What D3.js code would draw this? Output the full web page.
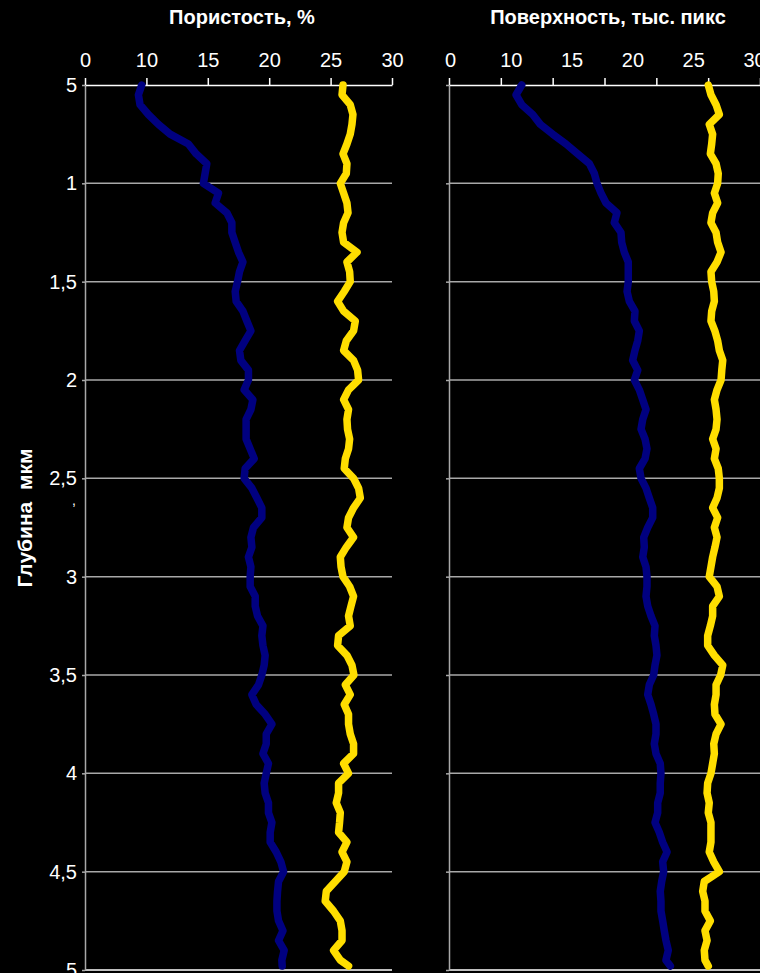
<!DOCTYPE html>
<html>
<head>
<meta charset="utf-8">
<script src="https://cdn.jsdelivr.net/npm/d3@7"></script>
<style>
  body { margin: 0; background: #000; }
  svg { display: block; }
  text { font-family: Arial, "Liberation Sans", sans-serif; fill: #fff; }
</style>
</head>
<body>
<script type="text/javascript">

//Depth of every sample (y axis).
var depth = [0.5, 0.55, 0.6, 0.65, 0.7, 0.75, 0.8, 0.85, 0.9, 0.95,
             1.0, 1.05, 1.1, 1.15, 1.2, 1.25, 1.3, 1.35, 1.4, 1.45,
             1.5, 1.55, 1.6, 1.65, 1.7, 1.75, 1.8, 1.85, 1.9, 1.95,
             2.0, 2.05, 2.1, 2.15, 2.2, 2.25, 2.3, 2.35, 2.4, 2.45,
             2.5, 2.55, 2.6, 2.65, 2.7, 2.75, 2.8, 2.85, 2.9, 2.95,
             3.0, 3.05, 3.1, 3.15, 3.2, 3.25, 3.3, 3.35, 3.4, 3.45,
             3.5, 3.55, 3.6, 3.65, 3.7, 3.75, 3.8, 3.85, 3.9, 3.95,
             4.0, 4.05, 4.1, 4.15, 4.2, 4.25, 4.3, 4.35, 4.4, 4.45,
             4.5, 4.55, 4.6, 4.65, 4.7, 4.75, 4.8, 4.85, 4.9, 4.95, 4.98];

//Porosity panel, blue series.
var porosityBlue = [9.62, 9.35, 9.48, 10.16, 10.98, 11.93, 13.42, 14.05, 14.92, 14.78,
                    14.64, 15.87, 15.6, 16.55, 16.96, 16.96, 17.23, 17.5, 17.86, 17.58,
                    17.42, 17.23, 17.31, 17.86, 18.18, 18.51, 18.04, 17.58, 17.69, 18.31,
                    18.31, 17.96, 18.67, 18.51, 18.12, 18.12, 18.12, 18.45, 18.78, 18.04,
                    17.96, 18.59, 19.0, 19.4, 19.4, 18.72, 18.51, 18.59, 18.31, 18.51,
                    18.45, 18.45, 18.86, 18.86, 19.05, 19.49, 19.4, 19.49, 19.67, 19.59,
                    19.4, 19.13, 18.59, 18.94, 19.67, 20.22, 19.76, 19.76, 19.49, 19.94,
                    19.76, 19.59, 19.67, 19.94, 19.94, 20.22, 20.08, 20.08, 20.57, 20.95,
                    21.17, 20.76, 20.68, 20.63, 20.63, 20.76, 21.12, 20.76, 21.22, 21.03, 21.06];

//Porosity panel, yellow series.
var porosityYellow = [26.01, 25.93, 26.6, 26.82, 26.74, 26.6, 26.33, 26.01, 26.33, 26.28,
                      25.79, 26.06, 26.33, 26.42, 26.06, 25.93, 26.06, 27.15, 26.33, 26.55,
                      26.6, 26.11, 25.57, 26.06, 27.01, 26.87, 26.28, 26.06, 26.87, 27.2,
                      27.28, 26.46, 26.06, 26.46, 26.33, 26.38, 26.55, 26.46, 26.2, 26.11,
                      26.87, 27.28, 27.42, 26.87, 26.46, 26.33, 26.87, 26.28, 25.79, 25.85,
                      26.01, 26.55, 26.87, 26.66, 26.46, 26.6, 25.65, 25.57, 26.33, 26.74,
                      26.9, 26.2, 26.6, 26.11, 26.46, 26.46, 26.6, 26.87, 26.87, 26.06,
                      26.46, 25.65, 25.65, 25.46, 25.79, 25.73, 25.65, 26.33, 25.93, 26.33,
                      26.11, 25.38, 24.65, 24.56, 25.24, 25.79, 25.93, 25.93, 25.24, 25.79, 26.46];

//Surface panel, blue series.
var surfaceBlue = [10.9, 10.43, 10.9, 11.8, 12.43, 13.45, 14.54, 15.5, 16.46, 16.87,
                   17.09, 17.42, 17.83, 18.73, 18.51, 19.06, 19.12, 19.33, 19.66, 19.66,
                   19.66, 19.56, 19.75, 20.21, 20.16, 20.57, 20.44, 20.21, 20.02, 20.44,
                   20.16, 20.57, 20.85, 21.12, 20.85, 20.71, 21.04, 21.2, 21.04, 20.57,
                   20.71, 21.12, 21.39, 21.67, 21.67, 21.26, 20.93, 20.98, 20.85, 21.12,
                   21.2, 21.2, 21.12, 21.26, 21.53, 21.86, 21.8, 21.94, 22.02, 21.86,
                   21.75, 21.39, 21.26, 21.53, 21.75, 21.94, 21.94, 21.8, 21.94, 22.29,
                   22.35, 22.29, 22.29, 22.08, 22.08, 21.86, 22.21, 22.49, 22.85, 22.49,
                   22.57, 22.41, 22.29, 22.35, 22.35, 22.49, 22.62, 22.76, 22.95, 22.76, 23.12];

//Surface panel, yellow series.
var surfaceYellow = [26.24, 26.46, 26.88, 27.15, 26.32, 26.6, 26.52, 26.41, 26.88, 27.06,
                     27.01, 26.74, 27.01, 26.6, 26.46, 26.88, 27.01, 27.29, 26.96, 26.46,
                     26.52, 26.69, 26.74, 26.52, 26.46, 26.78, 27.01, 27.15, 27.43, 27.35,
                     27.29, 26.96, 26.74, 26.88, 26.96, 26.88, 26.6, 26.88, 26.74, 27.06,
                     27.15, 27.15, 26.96, 26.6, 27.01, 26.74, 26.96, 26.79, 26.6, 26.46,
                     26.32, 26.96, 27.15, 26.6, 26.6, 26.41, 26.19, 26.19, 26.74, 27.43,
                     27.26, 26.88, 26.88, 26.74, 26.79, 27.29, 26.88, 26.69, 26.74, 26.6,
                     26.46, 26.19, 26.14, 26.32, 26.24, 26.46, 26.46, 26.46, 26.32, 26.69,
                     27.15, 25.91, 25.78, 25.97, 25.97, 26.41, 25.97, 26.14, 25.91, 25.97, 26.24];

//Tick values and the labels printed at them.
var xTickValues = [5, 10, 15, 20, 25, 30];
var xTickLabels = ["0", "10", "15", "20", "25", "30"];
var surfaceMarkValues = [0, 5, 10, 15, 20, 25, 30];
var yTickValues = [0.5, 1, 1.5, 2, 2.5, 3, 3.5, 4, 4.5, 5];
var yTickLabels = ["5", "1", "1,5", "2", "2,5", "3", "3,5", "4", "4,5", "5"];

var W = 760, H = 973;
var gridColor = "#a8a8a8";

var svg = d3.select("body").append("svg").attr("width", W).attr("height", H);
svg.append("rect").attr("width", W).attr("height", H).attr("fill", "#000");

//Scales.
var y = d3.scaleLinear().domain([0.5, 5]).range([85, 970]);
var xL = d3.scaleLinear().domain([5, 30]).range([85, 392]);
var xR = d3.scaleLinear().domain([5, 30]).range([450, 754]);
var xRmarks = d3.scaleLinear().domain([0, 30]).range([449, 760]);

//Draw the horizontal grid lines of both panels.
function grid(x0, x1) {
  svg.append("g").selectAll("line").data(yTickValues.slice(1)).enter()
    .append("line")
    .attr("x1", x0).attr("x2", x1)
    .attr("y1", function(d) { return y(d); })
    .attr("y2", function(d) { return y(d); })
    .attr("stroke", function(d) { return d === 5 ? "#fff" : gridColor; })
    .attr("stroke-width", 1.5);
}
grid(85, 392);
grid(449, 760);

//Left axes of both panels.
var yAxisL = svg.append("g").attr("transform", "translate(85,0)")
  .call(d3.axisLeft(y).tickValues(yTickValues)
    .tickFormat(function(d, i) { return yTickLabels[i]; })
    .tickSize(3).tickSizeOuter(0).tickPadding(5));
var yAxisR = svg.append("g").attr("transform", "translate(449,0)")
  .call(d3.axisLeft(y).tickValues(yTickValues).tickFormat("")
    .tickSize(3).tickSizeOuter(0));
[yAxisL, yAxisR].forEach(function(g) {
  g.selectAll("path, line").attr("stroke", gridColor).attr("stroke-width", 1.5);
  g.selectAll("text").attr("font-size", "20px").attr("fill", "#fff");
});

//Top axes.
var xAxisL = svg.append("g").attr("transform", "translate(0,85)")
  .call(d3.axisTop(xL).tickValues(xTickValues)
    .tickFormat(function(d, i) { return xTickLabels[i]; })
    .tickSize(7).tickSizeOuter(0).tickPadding(11));
var xAxisRmarks = svg.append("g").attr("transform", "translate(0,85)")
  .call(d3.axisTop(xRmarks).tickValues(surfaceMarkValues).tickFormat("")
    .tickSize(7).tickSizeOuter(0));
var xAxisR = svg.append("g").attr("transform", "translate(0,85)")
  .call(d3.axisTop(xR).tickValues(xTickValues)
    .tickFormat(function(d, i) { return xTickLabels[i]; })
    .tickSize(0).tickPadding(18));
xAxisR.select(".domain").remove();
[xAxisL, xAxisRmarks, xAxisR].forEach(function(g) {
  g.selectAll("path, line").attr("stroke", "#fff").attr("stroke-width", 1.5);
  g.selectAll("text").attr("font-size", "20px").attr("fill", "#fff");
});

//Titles.
svg.append("text").text("Пористость, %")
  .attr("x", 242).attr("y", 24).attr("text-anchor", "middle")
  .attr("font-size", "20px").attr("font-weight", "bold");
svg.append("text").text("Поверхность, тыс. пикс")
  .attr("x", 608).attr("y", 24).attr("text-anchor", "middle")
  .attr("font-size", "20px").attr("font-weight", "bold");
svg.append("text").text("Глубина  мкм")
  .attr("transform", "translate(32,518) rotate(-90)")
  .attr("text-anchor", "middle")
  .style("white-space", "pre")
  .attr("font-size", "21px").attr("font-weight", "bold");
svg.append("text").text(",")
  .attr("x", 74).attr("y", 505).attr("text-anchor", "middle")
  .attr("font-size", "14px");

//Draw the curves.
function curve(x, values, color) {
  var line = d3.line()
    .x(function(d, i) { return x(values[i]); })
    .y(function(d) { return y(d); });
  svg.append("path").datum(depth)
    .attr("d", line)
    .attr("fill", "none")
    .attr("stroke", color)
    .attr("stroke-width", 7.5)
    .attr("stroke-linejoin", "round")
    .attr("stroke-linecap", "round");
}
curve(xL, porosityBlue, "#000080");
curve(xL, porosityYellow, "#ffde00");
curve(xR, surfaceBlue, "#000080");
curve(xR, surfaceYellow, "#ffde00");

</script>
</body>
</html>
